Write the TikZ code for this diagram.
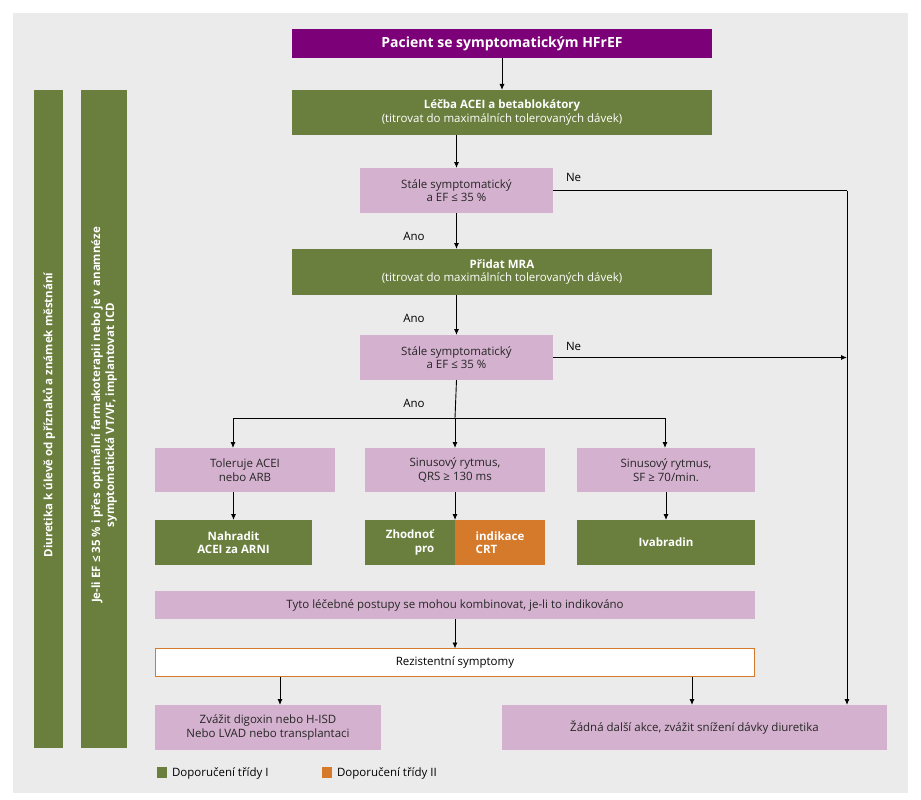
\documentclass[tikz,border=0pt]{standalone}
\usepackage{fontspec}
\setmainfont{Open Sans}
\begin{document}
\begin{tikzpicture}[x=1pt,y=-1pt,
 every node/.style={font=\fontsize{11.5}{13.5}\selectfont, align=center, inner sep=0, outer sep=0},
 box/.style={minimum height=#1},
 gr/.style={fill=grn, text=white, font=\fontsize{11.5}{13.5}\selectfont\bfseries},
 pk/.style={fill=pnk, text=black!85},
 arr/.style={-{Latex[length=6pt,width=5pt]}, line width=0.9pt},
 ln/.style={line width=0.9pt}]
\usetikzlibrary{arrows.meta}
\definecolor{grn}{HTML}{6A7F3D}
\definecolor{pnk}{HTML}{D4B1CE}
\definecolor{prp}{HTML}{7C0077}
\definecolor{org}{HTML}{D5792A}
\definecolor{bg}{HTML}{EBEBEB}
\useasboundingbox (0,0) rectangle (921,800);
\fill[white] (0,0) rectangle (921,800);
\fill[bg] (13,13) rectangle (908,793);
% side bars
\fill[grn] (34,90) rectangle (63,748);
\fill[grn] (81,90) rectangle (127,748);
\node[rotate=90, text=white, font=\fontsize{11.5}{13.5}\selectfont\bfseries] (d) at (49,415) {Diuretika k úlevě od příznaků a známek městnání};
\node[rotate=90, text=white, font=\fontsize{11.5}{14}\selectfont\bfseries] (j) at (104,415) {Je-li EF ≤ 35 \% i přes optimální farmakoterapii nebo je v anamnéze\\symptomatická VT/VF, implantovat ICD};
% main column
\node[fill=prp, text=white, font=\fontsize{14}{16}\selectfont\bfseries, minimum width=420, minimum height=29] (p) at (502,43.5) {Pacient se symptomatickým HFrEF};
\node[gr, minimum width=420, minimum height=45] (l) at (502,112.5) {Léčba ACEI a betablokátory\\\mdseries(titrovat do maximálních tolerovaných dávek)};
\node[pk, minimum width=193, minimum height=45] (s1) at (456.5,190.5) {Stále symptomatický\\a EF ≤ 35 \%};
\node[gr, minimum width=420, minimum height=46] (m) at (502,272) {Přidat MRA\\\mdseries(titrovat do maximálních tolerovaných dávek)};
\node[pk, minimum width=193, minimum height=45] (s2) at (456.5,357.5) {Stále symptomatický\\a EF ≤ 35 \%};
\node[pk, minimum width=180, minimum height=44] (t) at (245,470) {Toleruje ACEI\\nebo ARB};
\node[pk, minimum width=180, minimum height=44] (q) at (455,470) {Sinusový rytmus,\\QRS ≥ 130 ms};
\node[pk, minimum width=178, minimum height=44] (f) at (666,470) {Sinusový rytmus,\\SF ≥ 70/min.};
\node[gr, minimum width=157, minimum height=45] (n) at (233.5,542.5) {Nahradit\\ACEI za ARNI};
\node[gr, minimum width=90, minimum height=45, align=right] (z) at (410,542.5) {\hfill Zhodnoť\\\hfill pro};
\node[fill=org, text=white, font=\fontsize{11.5}{13.5}\selectfont\bfseries, minimum width=90, minimum height=45, align=left] (c) at (500,542.5) {indikace\hfill\\CRT\hfill};
\node[gr, minimum width=178, minimum height=45] (iv) at (666,542.5) {Ivabradin};
\node[pk, minimum width=600, minimum height=28] (ty) at (455,605) {Tyto léčebné postupy se mohou kombinovat, je-li to indikováno};
\node[fill=white, draw=org, line width=1.2pt, minimum width=599, minimum height=28] (r) at (455,662.5) {Rezistentní symptomy};
\node[pk, minimum width=226, minimum height=45] (zv) at (268,727.5) {Zvážit digoxin nebo H-ISD\\Nebo LVAD nebo transplantaci};
\node[pk, minimum width=385, minimum height=45] (za) at (694.5,727.5) {Žádná další akce, zvážit snížení dávky diuretika};
% legend
\fill[grn] (157,767) rectangle (167,778);
\node[anchor=west] (lg1) at (172,773) {Doporučení třídy I};
\fill[org] (322,767) rectangle (332,778);
\node[anchor=west] (lg2) at (337,773) {Doporučení třídy II};
% connectors
\coordinate (rt) at (847,190.5);
\coordinate (rt2) at (847,357.5);
\coordinate (b) at (455,418);
\coordinate (bl) at (233,418);
\coordinate (br) at (665,418);
\draw[arr] (p) -- (l);
\draw[arr] (l.south -| s1) -- (s1);
\draw[arr] (s1) -- (s1 |- m.north);
\draw[arr] (m.south -| s2) -- (s2);
\draw[ln] (s2.south) -- (b);
\draw[ln] (bl) -- (br);
\draw[arr] (b) -- (q);
\draw[arr] (bl) -- (bl |- t.north);
\draw[arr] (br) -- (br |- f.north);
\draw[arr] (t.south -| n) -- (n);
\draw[arr] (q) -- (q |- c.north);
\draw[arr] (f) -- (iv);
\draw[arr] (ty.south) -- (r.north);
\draw[arr] (r.south -| 280,0) -- (280,705);
\draw[arr] (r.south -| 692,0) -- (692,705);
\draw[ln] (s1.east) -- (rt);
\draw[arr] (rt) -- (847,705);
\draw[arr] (s2.east) -- (rt2);
\node[anchor=west] (ne1) at (566,177) {Ne};
\node[anchor=west] (ne2) at (566,346) {Ne};
\node (a1) at (414,236) {Ano};
\node (a2) at (414,318) {Ano};
\node (a3) at (414,403) {Ano};
\end{tikzpicture}
\end{document}
